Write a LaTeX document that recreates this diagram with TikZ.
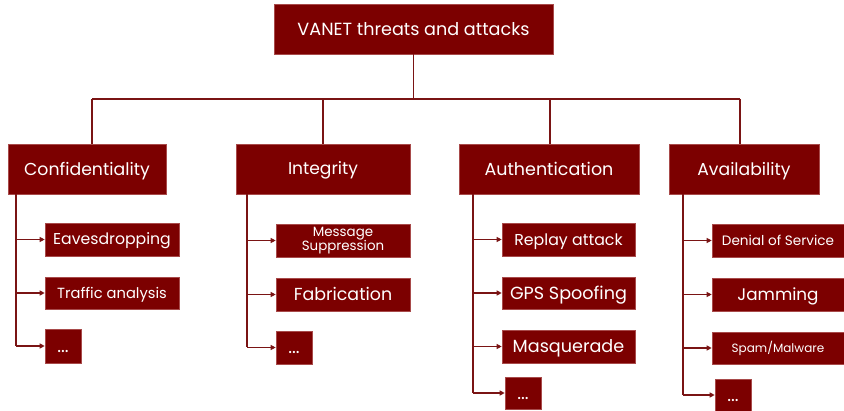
\documentclass[tikz,border=0pt]{standalone}
\usepackage{fontspec}
\setmainfont{Poppins}
\usetikzlibrary{arrows.meta}
\definecolor{wine}{HTML}{7C0000}
\definecolor{wineedge}{HTML}{A84A4A}
\definecolor{wireline}{HTML}{7A1414}
\newcommand{\fs}[1]{\fontsize{#1}{#1}\selectfont}
\tikzset{
  box/.style={fill=wine, draw=wineedge, line width=0.6pt, text=white, inner sep=0pt, align=center},
  % single-line label of size #1 (pt), capitals centred in the box
  oneline/.style={box, font=\fs{#1}, text height=0.7*#1pt, text depth=0pt},
  wire/.style={draw=wireline, line width=1.4pt},
  feed/.style={draw=wireline, line width=1.1pt, -{Triangle[length=5pt,width=5pt]}},
}
\begin{document}
\begin{tikzpicture}[x=1pt,y=-1pt]
\useasboundingbox (0,0) rectangle (844,411);
% root
\node[oneline=17.6, minimum width=279pt, minimum height=50pt] (top) at (413.5,29) {VANET threats and attacks};
% categories
\node[oneline=17.3, minimum width=158pt, minimum height=50pt] (conf) at (87,169) {Confidentiality};
\node[oneline=17.1, minimum width=174pt, minimum height=50pt] (integ) at (323,169) {Integrity};
\node[oneline=17.5, minimum width=180pt, minimum height=50pt] (auth) at (549,169) {Authentication};
\node[oneline=17.2, minimum width=150pt, minimum height=50pt] (avail) at (744,169) {Availability};
% confidentiality leaves
\node[oneline=15.7, minimum width=134pt, minimum height=33pt] (c1) at (112,239.5) {Eavesdropping};
\node[oneline=14.7, minimum width=134pt, minimum height=32pt] (c2) at (112,293) {Traffic analysis};
\node[oneline=18, minimum width=36pt, minimum height=34pt] (c3) at (63,346) {...};
% integrity leaves
\node[box, font=\fs{13.4}, minimum width=134pt, minimum height=33pt] (i1) at (343,240.5) {Message\\[-1.5pt]Suppression};
\node[oneline=17.4, minimum width=134pt, minimum height=33pt] (i2) at (343,294.5) {Fabrication};
\node[oneline=18, minimum width=36pt, minimum height=33pt] (i3) at (294,347.5) {...};
% authentication leaves
\node[oneline=15.8, minimum width=133pt, minimum height=33pt] (a1) at (568.5,239.5) {Replay attack};
\node[oneline=17.6, minimum width=133pt, minimum height=32pt] (a2) at (568.5,293) {GPS Spoofing};
\node[oneline=17.6, minimum width=133pt, minimum height=33pt] (a3) at (568.5,346.5) {Masquerade};
\node[oneline=18, minimum width=36pt, minimum height=32pt] (a4) at (523,393) {...};
% availability leaves
\node[oneline=13.6, minimum width=132pt, minimum height=33pt] (v1) at (778,240.5) {Denial of Service};
\node[oneline=16.8, minimum width=132pt, minimum height=33pt] (v2) at (778,294.5) {Jamming};
\node[oneline=12, minimum width=132pt, minimum height=32pt] (v3) at (778,348) {Spam/Malware};
\node[oneline=18, minimum width=36pt, minimum height=32pt] (v4) at (733,395) {...};
% bus between root and categories
\coordinate (busL) at (92,99);
\coordinate (busR) at (740,99);
\coordinate (dI) at (323,99);
\coordinate (dA) at (550,99);
\draw[wire] (top.south) -- (top.south |- busL);
\draw[wire] (busL) -- (busR);
\draw[wire] (busL) -- (busL |- conf.north);
\draw[wire] (dI) -- (dI |- integ.north);
\draw[wire] (dA) -- (dA |- auth.north);
\draw[wire] (busR) -- (busR |- avail.north);
% trunks under each category
\coordinate (tC) at (16,194);
\coordinate (tI) at (247,194);
\coordinate (tA) at (473,194);
\coordinate (tV) at (683,194);
\draw[wire] (tC) -- (tC |- c3.west);
\draw[wire] (tI) -- (tI |- i3.west);
\draw[wire] (tA) -- (tA |- a4.west);
\draw[wire] (tV) -- (tV |- v4.west);
\foreach \n in {c1,c2,c3} \draw[feed] (tC |- \n.west) -- (\n.west);
\foreach \n in {i1,i2,i3} \draw[feed] (tI |- \n.west) -- (\n.west);
\foreach \n in {a1,a2,a3,a4} \draw[feed] (tA |- \n.west) -- (\n.west);
\foreach \n in {v1,v2,v3,v4} \draw[feed] (tV |- \n.west) -- (\n.west);
\end{tikzpicture}
\end{document}
